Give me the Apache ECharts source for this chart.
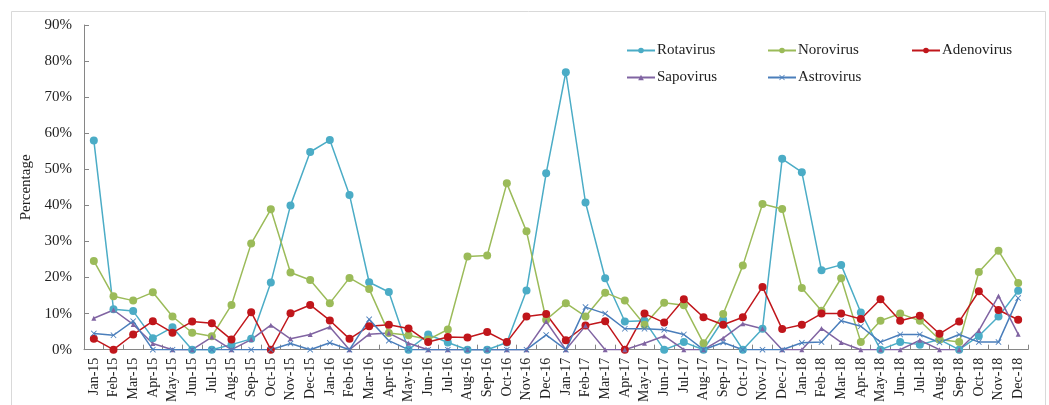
<!DOCTYPE html>
<html>
<head>
<meta charset="utf-8">
<script src="https://cdn.jsdelivr.net/npm/echarts@6/dist/echarts.min.js"></script>
<style>
html, body { margin: 0; padding: 0; background: #fff; }
#main { width: 1049px; height: 405px; }
</style>
</head>
<body>
<div id="main"></div>
<script>
var months = ['Jan-15','Feb-15','Mar-15','Apr-15','May-15','Jun-15','Jul-15','Aug-15','Sep-15','Oct-15','Nov-15','Dec-15',
	'Jan-16','Feb-16','Mar-16','Apr-16','May-16','Jun-16','Jul-16','Aug-16','Sep-16','Oct-16','Nov-16','Dec-16',
	'Jan-17','Feb-17','Mar-17','Apr-17','May-17','Jun-17','Jul-17','Aug-17','Sep-17','Oct-17','Nov-17','Dec-17',
	'Jan-18','Feb-18','Mar-18','Apr-18','May-18','Jun-18','Jul-18','Aug-18','Sep-18','Oct-18','Nov-18','Dec-18'];

var rotavirus = [58.0, 11.2, 10.7, 3.2, 6.2, 0, 0, 1.4, 3.0, 18.6, 40.0, 54.8,
	58.1, 42.9, 18.7, 16.0, 0, 4.2, 2.0, 0, 0, 2.0, 16.4, 48.9,
	76.9, 40.8, 19.8, 7.8, 8.0, 0, 2.1, 0, 8.3, 0, 5.8, 52.9,
	49.2, 22.0, 23.5, 10.3, 0, 2.1, 1.4, 2.8, 0, 3.8, 9.2, 16.3];

var norovirus = [24.6, 14.8, 13.6, 15.9, 9.2, 4.7, 3.7, 12.4, 29.4, 38.9, 21.4, 19.3,
	12.9, 19.9, 16.8, 4.6, 4.0, 2.8, 5.6, 25.8, 26.1, 46.1, 32.8, 8.3,
	12.9, 9.2, 15.8, 13.6, 6.9, 13.0, 12.3, 1.8, 9.9, 23.3, 40.4, 39.0,
	17.1, 10.8, 19.8, 2.1, 8.0, 10.0, 8.0, 2.8, 2.1, 21.5, 27.4, 18.5];

var adenovirus = [3.0, 0, 4.2, 7.9, 4.7, 7.8, 7.3, 2.8, 10.4, 0, 10.1, 12.4,
	8.1, 3.0, 6.5, 6.9, 5.9, 2.1, 3.5, 3.4, 4.9, 2.1, 9.2, 9.9,
	2.6, 6.7, 7.9, 0, 10.0, 7.5, 14.0, 9.0, 6.9, 9.0, 17.4, 5.7,
	6.9, 10.0, 10.0, 8.5, 14.0, 8.0, 9.4, 4.4, 7.8, 16.2, 11.0, 8.3];

var sapovirus = [8.7, 11.0, 7.0, 1.7, 0, 0, 3.5, 0, 2.8, 6.8, 3.0, 4.2,
	6.3, 0, 4.3, 4.6, 1.8, 0, 0, 0, 0, 0, 0, 7.8,
	0, 6.6, 0, 0, 1.8, 3.8, 0, 0, 3.2, 7.2, 5.8, 0,
	0, 5.9, 2.0, 0, 0, 0, 2.6, 0, 0, 5.3, 14.9, 4.3];

var astrovirus = [4.5, 4.0, 7.9, 0, 0, 0, 0, 0, 0, 0, 1.7, 0,
	1.9, 0, 8.4, 2.5, 0, 0, 0, 0, 0, 0, 0, 4.1,
	0, 11.8, 10.0, 5.8, 5.8, 5.5, 4.2, 0, 2.0, 0, 0, 0,
	1.9, 2.1, 8.0, 6.5, 2.1, 4.2, 4.2, 2.0, 4.2, 2.1, 2.1, 14.3];

var yTicks = [0, 10, 20, 30, 40, 50, 60, 70, 80, 90];

var FONT = '"Liberation Serif", "Times New Roman", serif';
var crossPath = 'path://M0,1L1,0L5,4L9,0L10,1L6,5L10,9L9,10L5,6L1,10L0,9L4,5Z';

// one entry per line: name, data, colour, marker
var lines = [
	{ name: 'Rotavirus', data: rotavirus, color: '#4bacc6', symbol: 'circle', size: 8 },
	{ name: 'Norovirus', data: norovirus, color: '#9bbb59', symbol: 'circle', size: 8 },
	{ name: 'Adenovirus', data: adenovirus, color: '#c0161b', symbol: 'circle', size: 8 },
	{ name: 'Sapovirus', data: sapovirus, color: '#8064a2', symbol: 'triangle', size: 5 },
	{ name: 'Astrovirus', data: astrovirus, color: '#4a7ebb', symbol: crossPath, size: 6 }
];

// legend slots, 3 columns x 2 rows
var legendPos = [[621, 38], [762, 38], [906, 38], [621, 65], [762, 65]];

var myChart = echarts.init(document.getElementById('main'));

var option = {
	animation: false,
	backgroundColor: '#ffffff',
	textStyle: { fontFamily: FONT },
	graphic: [{
		type: 'rect',
		shape: { x: 11.5, y: 11.5, width: 1034, height: 420 },
		style: { fill: 'none', stroke: '#d9d9d9', lineWidth: 1 },
		silent: true
	}],
	legend: lines.map(function (l, i) {
		return {
			data: [l.name],
			left: legendPos[i][0],
			top: legendPos[i][1],
			itemWidth: 28,
			itemHeight: 7,
			itemGap: 4,
			textStyle: { fontFamily: FONT, fontSize: 15, color: '#222', padding: [0, 0, 0, -3] }
		};
	}),
	grid: { left: 84, right: 21, top: 25, bottom: 55 },
	xAxis: {
		type: 'category',
		data: months,
		boundaryGap: true,
		axisLine: { lineStyle: { color: '#868686', width: 1 } },
		axisTick: { show: true, inside: true, length: 5, interval: 0, lineStyle: { color: '#868686' } },
		axisLabel: { interval: 0, rotate: 90, fontFamily: FONT, fontSize: 14, color: '#222', margin: 8 },
		splitLine: { show: false }
	},
	yAxis: {
		type: 'value',
		min: yTicks[0],
		max: yTicks[yTicks.length - 1],
		interval: 10,
		name: 'Percentage',
		nameLocation: 'middle',
		nameGap: 42,
		nameRotate: 90,
		nameTextStyle: { fontFamily: FONT, fontSize: 15, color: '#222' },
		axisLine: { show: true, lineStyle: { color: '#868686', width: 1 } },
		axisTick: { show: true, inside: true, length: 5, lineStyle: { color: '#868686' } },
		axisLabel: { formatter: '{value}%', fontFamily: FONT, fontSize: 15, color: '#222', margin: 12 },
		splitLine: { show: false }
	},
	series: lines.map(function (l) {
		return {
			name: l.name,
			type: 'line',
			data: l.data,
			symbol: l.symbol,
			symbolSize: l.size,
			showAllSymbol: true,
			lineStyle: { color: l.color, width: 1.5 },
			itemStyle: { color: l.color, borderColor: l.color, borderWidth: 0 }
		};
	})
};
myChart.setOption(option, true);
</script>
</body>
</html>
